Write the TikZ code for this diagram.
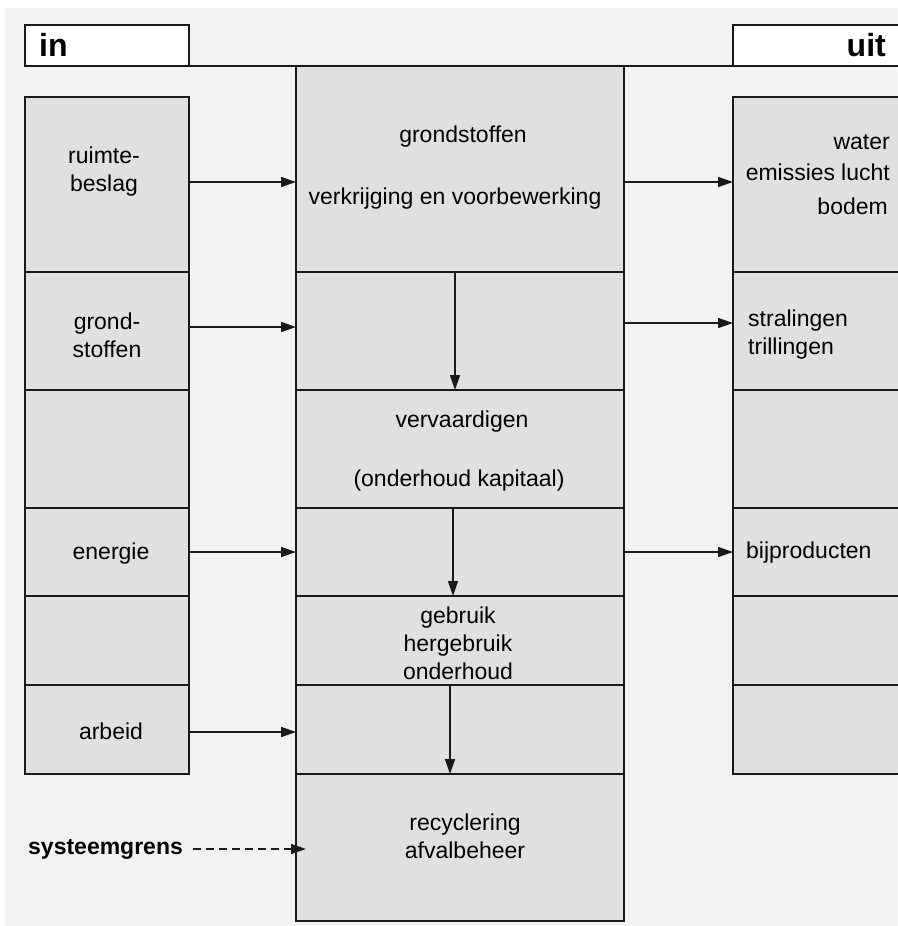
\documentclass[tikz,border=0pt]{standalone}
\usepackage{fontspec}
\setmainfont{Liberation Sans}
\usetikzlibrary{arrows.meta}
\definecolor{bggray}{HTML}{F2F2F2}
\definecolor{cellgray}{HTML}{E0E0E0}
\definecolor{linec}{HTML}{1A1A1A}
\begin{document}
\begin{tikzpicture}[x=1pt,y=-1pt,
  cell/.style={draw=linec,fill=cellgray,line width=2pt,anchor=north west,inner sep=0pt,outer sep=0pt},
  hdr/.style={draw=linec,fill=white,line width=2pt,anchor=north west,inner sep=0pt,outer sep=0pt,minimum height=41pt},
  lbl/.style={inner sep=0pt,font=\fontsize{23}{28}\selectfont},
  big/.style={inner sep=0pt,font=\fontsize{32}{36}\selectfont\bfseries},
  arr/.style={draw=linec,line width=1.5pt,-{Triangle[length=15pt,width=10pt]}},
  dasharr/.style={arr,dash pattern=on 8pt off 5pt}]
\useasboundingbox (0,0) rectangle (897,926);
\fill[white] (0,0) rectangle (897,926);
\fill[bggray] (5,8) rectangle (897,926);
% header boxes
\node[hdr,minimum width=164pt] (inbox) at (25,25) {};
\node[hdr,minimum width=166pt] (uitbox) at (733,25) {};
\draw[linec,line width=2pt] (inbox.south west) -- (uitbox.south west);
\node[big,anchor=west] (intxt) at (39,45) {in};
\node[big,anchor=east] (uittxt) at (886,45) {uit};
% left column
\node[cell,minimum width=164pt,minimum height=175pt] (L1) at (25,97) {};
\node[cell,minimum width=164pt,minimum height=118pt] (L2) at (25,272) {};
\node[cell,minimum width=164pt,minimum height=118pt] (L3) at (25,390) {};
\node[cell,minimum width=164pt,minimum height=88pt] (L4) at (25,508) {};
\node[cell,minimum width=164pt,minimum height=89pt] (L5) at (25,596) {};
\node[cell,minimum width=164pt,minimum height=89pt] (L6) at (25,685) {};
% middle column
\node[cell,minimum width=328pt,minimum height=206pt] (M1) at (296,66) {};
\node[cell,minimum width=328pt,minimum height=118pt] (M2) at (296,272) {};
\node[cell,minimum width=328pt,minimum height=118pt] (M3) at (296,390) {};
\node[cell,minimum width=328pt,minimum height=88pt] (M4) at (296,508) {};
\node[cell,minimum width=328pt,minimum height=89pt] (M5) at (296,596) {};
\node[cell,minimum width=328pt,minimum height=89pt] (M6) at (296,685) {};
\node[cell,minimum width=328pt,minimum height=147pt] (M7) at (296,774) {};
% right column
\node[cell,minimum width=168pt,minimum height=175pt] (R1) at (733,97) {};
\node[cell,minimum width=168pt,minimum height=118pt] (R2) at (733,272) {};
\node[cell,minimum width=168pt,minimum height=118pt] (R3) at (733,390) {};
\node[cell,minimum width=168pt,minimum height=88pt] (R4) at (733,508) {};
\node[cell,minimum width=168pt,minimum height=89pt] (R5) at (733,596) {};
\node[cell,minimum width=168pt,minimum height=89pt] (R6) at (733,685) {};
% left texts
\node[lbl,align=center] (t1) at (104,172) {ruimte-\\beslag};
\node[lbl,align=center] (t2) at (107,335) {grond-\\stoffen};
\node[lbl] (t3) at (111,554) {energie};
\node[lbl] (t4) at (111,731) {arbeid};
% middle texts
\node[lbl] (m1a) at (463,137) {grondstoffen};
\node[lbl] (m1b) at (455,199) {verkrijging en voorbewerking};
\node[lbl] (m3a) at (462,422) {vervaardigen};
\node[lbl] (m3b) at (459,481) {(onderhoud kapitaal)};
\node[lbl,align=center] (m5) at (458,643) {gebruik\\hergebruik\\onderhoud};
\node[lbl,align=center] (m7) at (465,836) {recyclering\\afvalbeheer};
% right texts
\node[lbl,anchor=east] (r1a) at (890,142) {water};
\node[lbl,anchor=east] (r1b) at (890,172) {emissies\hspace{6pt}lucht};
\node[lbl,anchor=east] (r1c) at (888,206) {bodem};
\node[lbl,anchor=west,align=left] (r2) at (748,335) {stralingen\\trillingen};
\node[lbl,anchor=west] (r4) at (746,553) {bijproducten};
% systeemgrens
\node[lbl,anchor=west,font=\fontsize{23}{28}\selectfont\bfseries] (sg) at (28,849) {systeemgrens};
% arrows in
\draw[arr] ([yshift=2.5pt]L1.east) -- ([yshift=2.5pt]L1.east -| M1.west);
\draw[arr] ([yshift=4pt]L2.east) -- ([yshift=4pt]L2.east -| M2.west);
\draw[arr] (L4.east) -- (L4.east -| M4.west);
\draw[arr] ([yshift=-2.5pt]L6.east) -- ([yshift=-2.5pt]L6.east -| M6.west);
\draw[dasharr] ([xshift=10pt]sg.east) -- ([xshift=10pt]sg.east -| M7.west);
% arrows out
\draw[arr] ([yshift=2.5pt]M1.east |- R1.west) -- ([yshift=2.5pt]R1.west);
\draw[arr] ([yshift=8pt]M2.east) -- ([yshift=8pt]R2.west);
\draw[arr] (M4.east) -- (R4.west);
% vertical arrows
\draw[arr] ([xshift=-5pt]M2.north) -- ([xshift=-5pt]M3.north);
\draw[arr] ([xshift=-7pt]M4.north) -- ([xshift=-7pt]M5.north);
\draw[arr] ([xshift=-10pt]M6.north) -- ([xshift=-10pt]M7.north);
\end{tikzpicture}
\end{document}
